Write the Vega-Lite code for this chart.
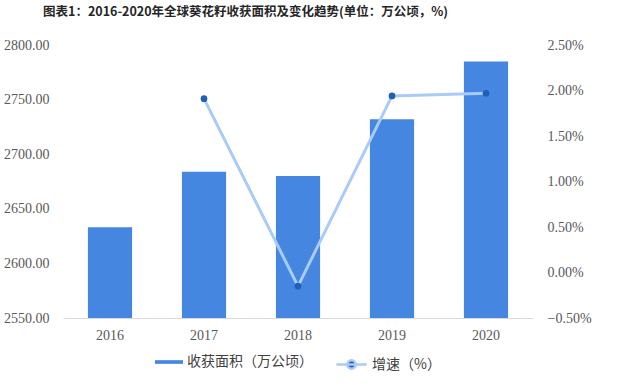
{
  "$schema": "https://vega.github.io/schema/vega-lite/v6.json",
  "width": 470,
  "height": 273,
  "autosize": "none",
  "padding": {"left": 63, "top": 45, "right": 111, "bottom": 69},
  "background": "white",
  "title": {
    "text": "图表1：2016-2020年全球葵花籽收获面积及变化趋势(单位：万公顷，%)",
    "anchor": "start",
    "frame": "group",
    "dx": -20,
    "offset": 20,
    "font": "Noto Sans CJK SC",
    "fontSize": 12.5,
    "fontWeight": "bold",
    "color": "#262626"
  },
  "config": {
    "view": {"stroke": null},
    "axis": {
      "grid": false,
      "ticks": false,
      "labelFont": "Liberation Serif",
      "labelFontSize": 14,
      "labelColor": "#595959",
      "title": null
    },
    "legend": {
      "orient": "none",
      "direction": "horizontal",
      "title": null,
      "labelFont": "Noto Sans CJK SC",
      "labelFontSize": 14,
      "labelColor": "#404040"
    }
  },
  "data": {
    "values": [
      {"year": "2016", "area": 2633, "growth": null},
      {"year": "2017", "area": 2684, "growth": 0.0191},
      {"year": "2018", "area": 2680, "growth": -0.0015},
      {"year": "2019", "area": 2732, "growth": 0.0194},
      {"year": "2020", "area": 2785, "growth": 0.0197}
    ]
  },
  "encoding": {
    "x": {
      "field": "year",
      "type": "ordinal",
      "scale": {"paddingInner": 0, "paddingOuter": 0},
      "axis": {"labelAngle": 0, "domain": true, "domainColor": "#d9d9d9", "labelPadding": 10}
    }
  },
  "layer": [
    {
      "mark": {"type": "bar", "width": {"band": 0.47}, "clip": true},
      "encoding": {
        "y": {
          "field": "area",
          "type": "quantitative",
          "scale": {"domain": [2550, 2800], "nice": false, "zero": false},
          "axis": {"orient": "left", "format": ".2f", "values": [2550, 2600, 2650, 2700, 2750, 2800], "domain": false, "labelPadding": 14}
        },
        "color": {
          "datum": "收获面积（万公顷）",
          "scale": {"range": ["#4486E0"]},
          "legend": {"symbolType": "M-1,-0.13H1V0.13H-1Z", "symbolSize": 784, "symbolStrokeWidth": 0, "legendX": 92, "legendY": 303}
        }
      }
    },
    {
      "encoding": {
        "y": {
          "field": "growth",
          "type": "quantitative",
          "scale": {"domain": [-0.005, 0.025], "nice": false, "zero": false},
          "axis": {"orient": "right", "format": ".2%", "values": [-0.005, 0, 0.005, 0.01, 0.015, 0.02, 0.025], "domain": false, "labelPadding": 14}
        }
      },
      "layer": [
        {
          "mark": {"type": "line", "strokeWidth": 3},
          "encoding": {
            "stroke": {
              "datum": "增速（%）",
              "scale": {"range": ["#A9CBF7"]},
              "legend": {
                "symbolType": "M-1,0H1M0.28,0A0.28,0.28 0 1,1 -0.28,0A0.28,0.28 0 1,1 0.28,0Z",
                "symbolSize": 900,
                "symbolStrokeWidth": 2.5,
                "symbolFillColor": "#1F5FB5",
                "legendX": 272,
                "legendY": 303,
                "encode": {"symbols": {"update": {"fill": {"value": "#1F5FB5"}, "fillOpacity": {"value": 1}, "opacity": {"value": 1}}}}
              }
            }
          }
        },
        {
          "mark": {"type": "point", "filled": true, "size": 45, "color": "#1F5FB5", "opacity": 1},
          "encoding": {}
        }
      ]
    }
  ],
  "resolve": {"scale": {"y": "independent"}}
}
